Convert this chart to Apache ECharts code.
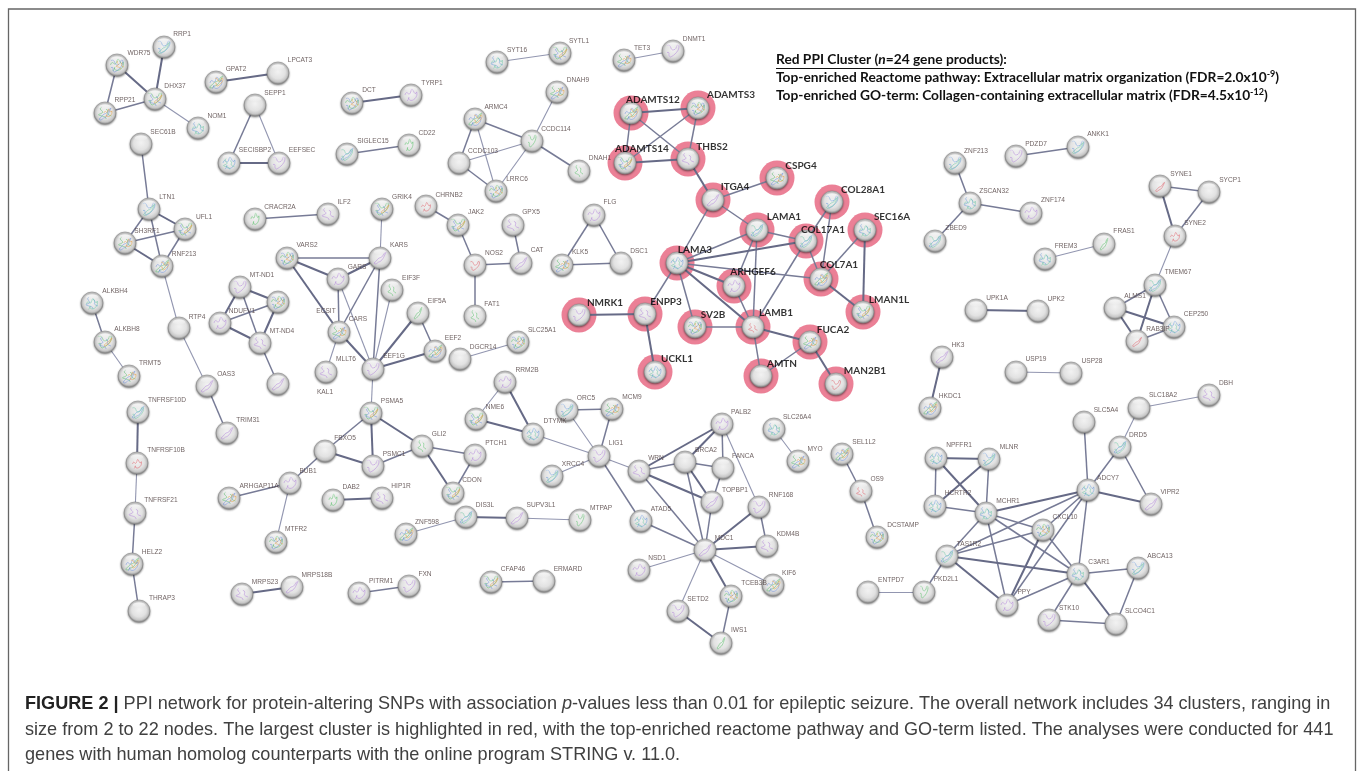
<!DOCTYPE html>
<html><head><meta charset="utf-8">
<style>html,body{margin:0;padding:0;background:#fff}#c{width:1357px;height:771px}</style>
<script src="https://cdn.jsdelivr.net/npm/echarts@6/dist/echarts.min.js"></script>
</head><body><div id="c"></div>
<script>
// Gene names with read-off network layout (axis units = picture pixels)
const geneNames = [
'RRP1','WDR75','DHX37','RPP21','NOM1','GPAT2','LPCAT3','SEPP1','SECISBP2','EEFSEC','DCT','TYRP1','SIGLEC15','CD22','SEC61B','LTN1','UFL1','SH3RF1','RNF213','RTP4','OAS3','TRIM31',
'CRACR2A','ILF2','GRIK4','CHRNB2','VARS2','KARS','GARS','EIF3F','EIF5A','CARS','MLLT6','EEF1G','EEF2','MT-ND1','MT-X','NDUFV1','MT-ND4','MT-Y','ALKBH4','ALKBH8','TRMT5',
'TNFRSF10D','TNFRSF10B','TNFRSF21','HELZ2','THRAP3','PSMA5','FBXO5','PSMC1','GLI2','BUB1','ARHGAP11A','MTFR2','DAB2','HIP1R','ZNF598','MRPS23','MRPS18B','PITRM1','FXN','CDON','PTCH1','DIS3L','SUPV3L1','MTPAP',
'DGCR14','SLC25A1','RRM2B','NME6','DTYMK','ORC5','MCM9','LIG1','XRCC4','WRN','BRCA2','PALB2','FANCA','TOPBP1','ATAD5','RNF168','KDM4B','MDC1','NSD1','KIF6','TCEB3B','SETD2','IWS1','CFAP46','ERMARD',
'SLC26A4','MYO','SEL1L2','OS9','DCSTAMP','SYT16','SYTL1','TET3','DNMT1','DNAH9','ARMC4','CCDC114','CCDC103','LRRC6','DNAH1','JAK2','GPX5','NOS2','CAT','FAT1','FLG','KLK5','DSC1',
'ADAMTS12','ADAMTS3','ADAMTS14','THBS2','CSPG4','ITGA4','COL28A1','LAMA1','COL17A1','SEC16A','LAMA3','COL7A1','ARHGEF6','NMRK1','ENPP3','SV2B','LAMB1','LMAN1L','FUCA2','UCKL1','AMTN','MAN2B1',
'ZNF213','PDZD7','ANKK1','ZSCAN32','ZNF174','ZBED9','FREM3','FRAS1','SYNE1','SYCP1','SYNE2','TMEM67','ALMS1','CEP250','RAB3IP','UPK1A','UPK2','HK3','HKDC1','USP19','USP28',
'SLC18A2','DBH','SLC5A4','DRD5','NPFFR1','MLNR','HCRTR2','MCHR1','ADCY7','VIPR2','CXCL10','TAS1R2','C3AR1','ABCA13','PKD2L1','ENTPD7','PPY','STK10','SLCO4C1'];
const geneX = [
164,117,155,105,198,216,278,255,229,279,352,411,347,409,141,149,185,125,162,179,207,227,
255,328,382,426,287,380,338,392,418,339,326,373,435,240,278,220,260,278,92,105,129,
138,137,135,132,139,371,325,373,422,290,229,276,333,382,406,242,292,359,409,453,475,466,517,580,
460,518,505,476,533,567,612,599,552,639,685,722,723,712,641,759,767,705,639,773,731,678,721,491,544,
774,798,842,861,877,497,560,624,673,557,475,532,459,496,579,458,513,475,521,475,594,562,621,
631,698,625,688,777,713,832,757,806,865,677,821,734,579,645,695,753,863,810,655,761,836,
955,1016,1078,970,1031,935,1045,1104,1160,1209,1175,1155,1115,1174,1137,976,1038,942,930,1016,1071,
1139,1209,1084,1120,936,989,935,986,1088,1151,1043,947,1078,1138,924,868,1007,1049,1116];
const geneY = [
47,65,99,113,128,82,73,105,163,163,103,95,154,145,144,209,229,243,266,328,386,433,
219,214,209,206,258,258,279,290,313,332,372,369,351,287,302,323,343,384,303,342,376,
412,463,513,564,611,413,451,466,446,483,498,542,500,498,534,594,587,593,586,493,455,517,518,520,
359,342,382,419,434,410,409,456,476,471,462,424,468,502,521,507,546,550,570,585,596,611,643,582,581,
429,461,454,491,537,62,53,60,51,92,119,141,163,191,171,225,225,265,263,316,215,265,263,
113,108,163,159,178,200,202,230,241,230,263,279,286,315,314,327,327,312,342,372,376,384,
163,156,147,203,213,241,259,244,186,192,236,285,308,327,341,310,311,357,408,372,373,
408,395,422,447,458,459,506,513,490,504,530,556,574,568,592,592,605,620,624];
const labelX = [
182,139,175,125,217,236,300,275,255,302,369,432,373,427,163,167,204,147,184,197,226,248,
280,344,402,449,307,399,357,411,437,358,346,394,453,262,0,242,282,0,115,127,150,
167,166,161,152,162,392,345,394,439,308,259,296,351,401,427,265,317,381,425,472,496,485,541,601,
483,542,527,495,555,586,632,616,573,656,706,741,743,735,661,781,788,724,657,789,754,698,739,513,568,
797,815,864,877,903,517,579,642,694,578,496,556,483,517,600,476,531,494,537,492,610,580,639,
653,731,642,712,801,735,863,784,823,892,695,839,753,605,666,713,776,889,833,677,782,865,
976,1036,1098,994,1053,956,1066,1124,1181,1230,1195,1178,1135,1196,1158,997,1056,958,950,1036,1092,
1163,1226,1106,1138,959,1009,958,1008,1108,1170,1065,969,1099,1160,946,891,1024,1069,1140];
const labelY = [
34,53,86,100,116,69,60,93,150,150,90,83,141,133,132,197,217,231,254,317,374,420,
207,202,197,195,245,245,267,278,301,319,359,356,338,275,0,311,331,0,291,329,363,
400,450,500,552,598,401,438,454,434,471,486,529,487,486,522,582,575,581,574,480,443,505,505,508,
347,330,370,407,421,398,397,443,464,458,450,412,456,490,509,495,534,538,558,573,583,599,630,569,569,
417,449,442,479,525,50,41,48,39,80,107,129,151,179,158,212,212,253,250,304,202,252,251,
100,95,149,147,166,187,190,217,230,217,250,265,272,303,302,315,313,300,330,359,364,371,
151,144,134,191,200,228,246,231,174,180,223,272,296,314,329,298,299,345,396,359,361,
395,383,410,435,445,447,493,501,478,492,517,544,562,556,579,580,592,608,611];
// Labels in the picture that sit away from any sphere
const looseLabels = ['ECSIT','KAL1'];
const looseLabelX = [326,325];
const looseLabelY = [311,392];
// Spheres without a visible name
const unnamedGenes = ['MT-X','MT-Y'];
// The highlighted (red) cluster
const redCluster = ['ADAMTS12','ADAMTS3','ADAMTS14','THBS2','CSPG4','ITGA4','COL28A1','LAMA1','COL17A1','SEC16A','LAMA3','COL7A1','ARHGEF6','NMRK1','ENPP3','SV2B','LAMB1','LMAN1L','FUCA2','UCKL1','AMTN','MAN2B1'];
// Interactions by evidence strength
const linksStrong = ['WDR75-DHX37','RRP1-DHX37','GPAT2-LPCAT3','SECISBP2-EEFSEC','DCT-TYRP1','LTN1-UFL1','SH3RF1-RNF213','MT-ND1-MT-X','MT-X-MT-ND4','NDUFV1-MT-ND4','MT-ND1-NDUFV1','EEF1G-EEF2','VARS2-GARS','VARS2-CARS','TNFRSF10D-TNFRSF10B','GLI2-CDON','DAB2-HIP1R','MRPS23-MRPS18B','DIS3L-SUPV3L1','RRM2B-DTYMK','NME6-DTYMK','WRN-TOPBP1','WRN-PALB2','BRCA2-TOPBP1','PALB2-BRCA2','RNF168-MDC1','SETD2-IWS1','MDC1-TCEB3B','KDM4B-MDC1','UPK1A-UPK2','HK3-HKDC1','ADAMTS14-THBS2','ADAMTS12-ADAMTS3','THBS2-ITGA4','LAMA3-LAMB1','LAMA3-ARHGEF6','SEC16A-LMAN1L','COL7A1-LMAN1L','FUCA2-MAN2B1','ENPP3-UCKL1','NMRK1-ENPP3','LAMB1-FUCA2','LAMA3-COL17A1','NPFFR1-MLNR','ADCY7-VIPR2','TAS1R2-C3AR1','TAS1R2-PPY','C3AR1-SLCO4C1','MCHR1-ADCY7','CXCL10-PPY','MLNR-HCRTR2','NPFFR1-MCHR1','SYNE1-SYNE2','TMEM67-RAB3IP','ALMS1-CEP250','ALMS1-RAB3IP','PSMA5-GLI2','FBXO5-PSMC1','PSMA5-PSMC1','KARS-GARS','CARS-EEF1G','EIF5A-EEF1G'];
const linksMedium = ['WDR75-RPP21','RPP21-DHX37','SEPP1-SECISBP2','SIGLEC15-CD22','SEC61B-LTN1','LTN1-SH3RF1','LTN1-RNF213','SH3RF1-UFL1','UFL1-RNF213','OAS3-TRIM31','CRACR2A-ILF2','VARS2-KARS','KARS-CARS','GARS-CARS','KARS-EEF1G','EIF5A-EEF2','MT-ND4-MT-Y','MT-ND1-MT-ND4','NDUFV1-MT-X','JAK2-NOS2','NOS2-CAT','NOS2-FAT1','GPX5-CAT','CHRNB2-JAK2','TNFRSF21-HELZ2','HELZ2-THRAP3','PSMA5-FBXO5','PSMC1-GLI2','GLI2-PTCH1','PTCH1-CDON','ALKBH4-ALKBH8','BUB1-ARHGAP11A','PITRM1-FXN','CFAP46-ERMARD','ORC5-MCM9','MCM9-LIG1','LIG1-ATAD5','WRN-MDC1','WRN-BRCA2','BRCA2-FANCA','BRCA2-MDC1','PALB2-FANCA','FANCA-TOPBP1','TOPBP1-MDC1','RNF168-KDM4B','ATAD5-MDC1','TCEB3B-IWS1','SEL1L2-OS9','OS9-DCSTAMP','ARMC4-CCDC114','CCDC103-LRRC6','CCDC114-DNAH1','ARMC4-CCDC103','FLG-KLK5','FLG-DSC1','KLK5-DSC1','ADAMTS12-ADAMTS14','ADAMTS12-THBS2','ADAMTS3-ADAMTS14','ADAMTS3-THBS2','ITGA4-LAMA1','ITGA4-CSPG4','LAMA1-COL17A1','LAMA1-LAMA3','LAMA1-ARHGEF6','LAMA1-LAMB1','LAMA3-COL7A1','LAMA3-SV2B','LAMA3-ENPP3','ARHGEF6-LAMB1','COL17A1-COL28A1','COL28A1-COL7A1','COL17A1-COL7A1','COL17A1-LAMB1','SEC16A-COL7A1','SV2B-LAMB1','LAMB1-AMTN','FUCA2-AMTN','ITGA4-LAMA3','ZNF213-ZSCAN32','ZSCAN32-ZNF174','ZSCAN32-ZBED9','PDZD7-ANKK1','SYNE1-SYCP1','SYCP1-SYNE2','TMEM67-ALMS1','TMEM67-CEP250','CEP250-RAB3IP','DRD5-ADCY7','DRD5-VIPR2','NPFFR1-HCRTR2','MLNR-MCHR1','HCRTR2-MCHR1','MCHR1-CXCL10','MCHR1-TAS1R2','MCHR1-C3AR1','MCHR1-PPY','ADCY7-CXCL10','ADCY7-TAS1R2','ADCY7-C3AR1','ADCY7-PPY','CXCL10-TAS1R2','CXCL10-C3AR1','TAS1R2-PKD2L1','C3AR1-ABCA13','C3AR1-PPY','C3AR1-STK10','ABCA13-SLCO4C1','STK10-SLCO4C1','FBXO5-BUB1','SLC5A4-ADCY7'];
const linksWeak = ['DHX37-NOM1','SEPP1-EEFSEC','RNF213-RTP4','RTP4-OAS3','GRIK4-KARS','GARS-EEF1G','EIF3F-EEF1G','CARS-MLLT6','EEF1G-PSMA5','ALKBH8-TRMT5','TNFRSF10B-TNFRSF21','BUB1-MTFR2','ZNF598-DIS3L','SUPV3L1-MTPAP','DGCR14-SLC25A1','RRM2B-NME6','ORC5-LIG1','DTYMK-LIG1','XRCC4-LIG1','LIG1-WRN','PALB2-RNF168','MDC1-NSD1','MDC1-KIF6','MDC1-SETD2','SLC26A4-MYO','SYT16-SYTL1','TET3-DNMT1','DNAH9-CCDC114','ARMC4-LRRC6','CCDC103-CCDC114','LRRC6-CCDC114','FREM3-FRAS1','SYNE2-TMEM67','USP19-USP28','SLC18A2-DBH','SLC18A2-DRD5','PKD2L1-ENTPD7'];
// Protein-structure scribbles inside the spheres, grouped by tint
const tintPurple = ['TYRP1','EEFSEC','ILF2','KARS','GARS','MT-ND1','MT-ND4','MT-Y','NDUFV1','EEF1G','MLLT6','OAS3','BUB1','PSMC1','MRPS23','MRPS18B','PITRM1','FXN','HIP1R','SUPV3L1','RRM2B','LIG1','WRN','TOPBP1','PALB2','RNF168','KDM4B','MDC1','NSD1','SETD2','GPX5','CAT','FLG','DNMT1','THBS2','ITGA4','ARHGEF6','NMRK1','ENPP3','HK3','ZNF174','PDZD7','DBH','VIPR2','PPY','STK10','TNFRSF21','TRIM31','PTCH1'];
const tintGreen = ['EIF3F','EIF5A','DAB2','PKD2L1','FAT1','FRAS1','CD22','CCDC114','DNAH1','IWS1','CRACR2A','MTPAP','GLI2'];
const tintBlue = ['RRP1','NOM1','SIGLEC15','SECISBP2','LTN1','ALKBH4','TNFRSF10D','DTYMK','ORC5','SLC26A4','DIS3L','ATAD5','XRCC4','SYT16','LAMA1','LAMA3','COL28A1','SEC16A','COL17A1','UCKL1','ZNF213','ZSCAN32','ZBED9','NPFFR1','MLNR','MCHR1','DRD5','ADCY7','ABCA13','C3AR1','TAS1R2','HCRTR2','ANKK1','FREM3','TMEM67','CEP250'];
const tintMulti = ['WDR75','DHX37','RPP21','GPAT2','DCT','UFL1','SH3RF1','RNF213','VARS2','GRIK4','CARS','EEF2','MT-X','ALKBH8','TRMT5','HELZ2','MTFR2','PSMA5','ARHGAP11A','ZNF598','SLC25A1','NME6','MCM9','KIF6','TCEB3B','CFAP46','MYO','SEL1L2','DCSTAMP','SYTL1','DNAH9','ARMC4','LRRC6','JAK2','KLK5','ADAMTS12','ADAMTS3','ADAMTS14','CSPG4','COL7A1','SV2B','LMAN1L','FUCA2','HKDC1','CXCL10','CDON','TET3'];
const tintRed = ['CHRNB2','NOS2','OS9','SYNE1','SYNE2','MAN2B1','LAMB1','RAB3IP','TNFRSF10B'];

const captionLines = [
 'PPI network for protein-altering SNPs with association ',
 '-values less than 0.01 for epileptic seizure. The overall network includes 34 clusters, ranging in',
 'size from 2 to 22 nodes. The largest cluster is highlighted in red, with the top-enriched reactome pathway and GO-term listed. The analyses were conducted for 441',
 'genes with human homolog counterparts with the online program STRING v. 11.0.'];

const W=1357,H=771;
const pos={};geneNames.forEach((n,i)=>pos[n]=[geneX[i],geneY[i]]);
const sphere={type:'radial',x:0.5,y:0.44,r:0.58,colorStops:[
 {offset:0,color:'#f2f2f2'},{offset:0.55,color:'#e2e2e2'},{offset:0.78,color:'#c8c8c8'},{offset:0.95,color:'#8c8c8c'},{offset:1,color:'#808080'}]};
const gloss={type:'linear',x:0,y:0,x2:0,y2:1,colorStops:[{offset:0,color:'rgba(255,255,255,.9)'},{offset:1,color:'rgba(255,255,255,.05)'}]};
const scribbles=[
 'path://M2,9 C5,2 7,14 10,4 C12,0 14,12 17,6 C19,11 12,16 8,14 C4,12 10,9 5,15',
 'path://M3,4 C9,2 6,10 11,9 C16,8 13,2 17,4 C19,9 11,16 7,17 C3,15 8,11 3,12',
 'path://M9,1 C5,5 13,7 8,10 C3,13 13,12 12,17 M12,4 C16,7 10,10 16,13',
 'path://M2,14 C6,12 7,8 11,8 C15,7 14,3 18,2 C15,8 13,12 8,13 C5,15 4,16 2,14'];
function tint(list,color,size,dx,dy,op,shift){return {type:'scatter',silent:true,z:4,
 symbol:(v,p)=>scribbles[(p.dataIndex+shift)%scribbles.length],symbolSize:size,symbolOffset:[dx,dy],
 itemStyle:{color:'rgba(0,0,0,0)',borderColor:color,borderWidth:0.65,opacity:op},
 data:list.map(n=>pos[n])};}
const links=[];
function addLinks(list,width,color){list.forEach(t=>{
 let a=null,b=null;
 // names themselves may contain '-' so look for the split giving two known genes
 for(let i=0;i<t.length;i++){ if(t[i]==='-'&&pos[t.slice(0,i)]&&pos[t.slice(i+1)]){a=t.slice(0,i);b=t.slice(i+1);} }
 if(a)links.push({source:a,target:b,lineStyle:{width:width,color:color,opacity:1}});
});}
addLinks(linksWeak,1.1,'#9296b0');
addLinks(linksMedium,1.5,'#777b96');
addLinks(linksStrong,2,'#666a86');

const boldSet=new Set(redCluster);
const nameLabels=[];
geneNames.forEach((n,i)=>{ if(unnamedGenes.indexOf(n)<0) nameLabels.push({name:n,value:[labelX[i],labelY[i]]}); });
looseLabels.forEach((n,i)=>nameLabels.push({name:n,value:[looseLabelX[i],looseLabelY[i]]}));

const RB={b:{font:'bold 13.75px Lato',fill:'#111'},i:{font:'italic bold 13.75px Lato',fill:'#111'},s:{font:'bold 9px Lato',fill:'#111',padding:[0,0,7,0]}};
const CAP='18.1px "Liberation Sans"';
const chart=echarts.init(document.getElementById('c'),null,{renderer:'canvas'});
chart.setOption({
 animation:false,backgroundColor:'#fff',
 grid:{left:0,right:0,top:0,bottom:0},
 xAxis:{type:'value',min:0,max:W,show:false},
 yAxis:{type:'value',min:0,max:H,inverse:true,show:false},
 series:[
  {type:'scatter',name:'Red PPI cluster',silent:true,z:1,symbolSize:35,itemStyle:{color:'#e6607c'},data:redCluster.map(n=>pos[n])},
  {type:'graph',coordinateSystem:'cartesian2d',z:2,silent:true,layout:'none',symbol:'circle',symbolSize:22,
   itemStyle:{color:sphere,borderColor:'#8a8a8a',borderWidth:0.6,shadowColor:'rgba(0,0,0,.45)',shadowBlur:2,shadowOffsetY:1},
   label:{show:false},
   data:geneNames.map(n=>({name:n,value:pos[n]})),links:links},
  tint(tintPurple,'#b98fdc',[12,12],0,0,.9,0),
  tint(tintGreen,'#63c474',[8,12],0,0,.85,2),
  tint(tintBlue,'#6f9fdc',[12,12],0,0,.85,1),
  tint(tintBlue,'#6cc8a4',[11,11],0,1,.8,3),
  tint(tintRed,'#e0606a',[9,9],0,1,.8,0),
  tint(tintMulti,'#5fbf73',[13,12],0,0,.85,0),
  tint(tintMulti,'#6e8fdc',[12,12],0,1,.8,1),
  tint(tintMulti,'#e4a44e',[8,8],3,0,.85,2),
  {type:'scatter',silent:true,z:5,symbol:'path://M0,5 A5,3 0 1 1 10,5 A5,3 0 1 1 0,5 Z',symbolSize:[13,5],symbolOffset:[0,-6],
   itemStyle:{color:gloss},data:geneNames.map(n=>pos[n])},
  {type:'scatter',silent:true,z:6,symbolSize:1,itemStyle:{color:'rgba(0,0,0,0)'},
   label:{show:true,position:'inside',formatter:p=>p.name},
   data:nameLabels.map(d=>{const red=boldSet.has(d.name);return {name:d.name,value:d.value,label:red?
     {fontFamily:'Lato',fontWeight:'bold',fontSize:10,color:'#000'}:
     {fontFamily:'"Liberation Sans"',fontSize:6.6,color:'#4a3a3a'}};})}
 ],
 graphic:[
  {type:'rect',silent:true,shape:{x:8.5,y:9,width:1347,height:770},style:{fill:'none',stroke:'#666',lineWidth:1.3}},
  {type:'text',silent:true,left:776,top:53,style:{rich:RB,text:'{b|Red PPI Cluster (}{i|n}{b|=24 gene products):}'}},
  {type:'rect',silent:true,shape:{x:776,y:68,width:228,height:1},style:{fill:'#111'}},
  {type:'text',silent:true,left:776,top:70,style:{rich:RB,text:'{b|Top-enriched Reactome pathway: Extracellular matrix organization (FDR=2.0x10}{s|-9}{b|)}'}},
  {type:'text',silent:true,left:776,top:88,style:{rich:RB,text:'{b|Top-enriched GO-term: Collagen-containing extracellular matrix (FDR=4.5x10}{s|-12}{b|)}'}},
  {type:'text',silent:true,left:25,top:695,style:{
    rich:{b:{font:'bold '+CAP,fill:'#222'},n:{font:CAP,fill:'#404040'},i:{font:'italic '+CAP,fill:'#404040'}},
    text:'{b|FIGURE 2 | }{n|'+captionLines[0]+'}{i|p}{n|'+captionLines[1]+'}'}},
  {type:'text',silent:true,left:25,top:721,style:{text:captionLines[2],font:CAP,fill:'#404040'}},
  {type:'text',silent:true,left:25,top:746,style:{text:captionLines[3],font:CAP,fill:'#404040'}}
 ]
});
</script></body></html>
